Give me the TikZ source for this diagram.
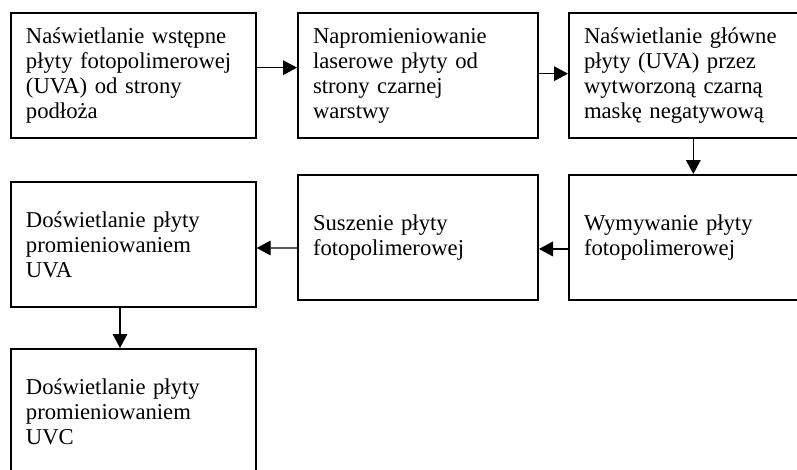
\documentclass[tikz,border=0pt]{standalone}
\usepackage{fontspec}
\setmainfont{Liberation Serif}
\usepackage{tikz}
\usetikzlibrary{arrows.meta,positioning}
\tikzset{
  etap/.style={draw, line width=1.5pt, anchor=north west, align=left,
    inner xsep=11.25pt, inner ysep=0pt,
    minimum height=94pt, font=\fontsize{17pt}{18.75pt}\selectfont},
  strz/.style={line width=0.9pt, -{Triangle[length=10.5pt,width=11pt]}}
}
\begin{document}
\begin{tikzpicture}[x=0.75pt, y=-0.75pt]
\useasboundingbox (0,0) rectangle (797,469);
\node[etap, text width=161pt] (n1) at (10,12) {Naświetlanie wstępne\\płyty fotopolimerowej\\(UVA) od strony\\podłoża};
\node[etap, text width=157.5pt] (n2) at (297,12) {Napromieniowanie\\laserowe płyty od\\strony czarnej\\warstwy};
\node[etap, text width=161pt] (n3) at (568,12) {Naświetlanie główne\\płyty (UVA) przez\\wytworzoną czarną\\maskę negatywową};
\node[etap, text width=161pt, minimum height=93.75pt] (n4) at (568,174) {Wymywanie płyty\\fotopolimerowej};
\node[etap, text width=157.5pt, minimum height=93.75pt] (n5) at (297,174) {Suszenie płyty\\fotopolimerowej};
\node[etap, text width=161pt, minimum height=93.75pt] (n6) at (10,181) {Doświetlanie płyty\\promieniowaniem\\UVA};
\node[etap, text width=161pt, minimum height=93.75pt] (n7) at (10,348) {Doświetlanie płyty\\promieniowaniem\\UVC};
\draw[strz] ([yshift=6pt]n1.east) -- ([yshift=6pt]n2.west);
\draw[strz] ([yshift=1.5pt]n2.east) -- ([yshift=1.5pt]n3.west);
\draw[strz] ([xshift=1.5pt]n3.south) -- ([xshift=1.5pt]n4.north);
\draw[strz] ([yshift=-8.6pt]n4.west) -- ([yshift=-8.6pt]n5.east);
\draw[strz] ([yshift=-7.9pt]n5.west) -- ([yshift=-2.6pt]n6.east);
\draw[strz] ([xshift=-10pt]n6.south) -- ([xshift=-10pt]n7.north);
\end{tikzpicture}
\end{document}
